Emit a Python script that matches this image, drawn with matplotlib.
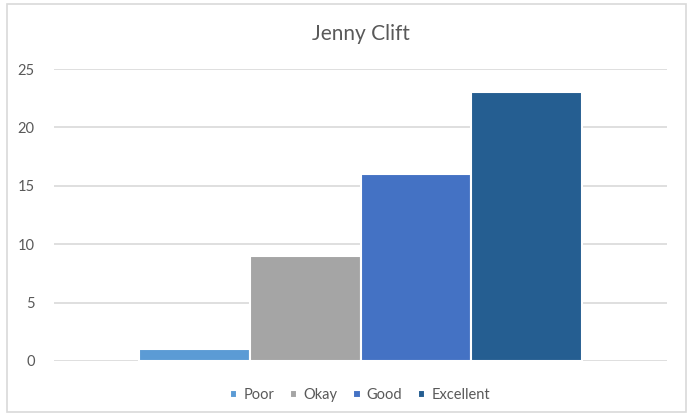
import matplotlib.pyplot as plt
from matplotlib.patches import Rectangle

# data
series = ['Poor', 'Okay', 'Good', 'Excellent']
values = [1, 9, 16, 23]
colors = ['#5B9BD5', '#A5A5A5', '#4472C4', '#255E91']
yticks = [0, 5, 10, 15, 20, 25]

plt.rcParams['font.family'] = ['Lato', 'DejaVu Sans']

W, H = 693, 416
fig = plt.figure(figsize=(W / 100, H / 100), dpi=100)
fig.patch.set_facecolor('white')

# chart border
fig.patches.append(Rectangle((7 / W, 4 / H), 679 / W, 408 / H, transform=fig.transFigure,
                             fill=False, edgecolor='#D9D9D9', linewidth=1.2))

ax = fig.add_axes([54 / W, (H - 361) / H, (667 - 54) / W, (361 - 69) / H])

bar_w = 0.7227 / len(series)
start = -0.7227 / 2 + bar_w / 2
for i, (name, val, col) in enumerate(zip(series, values, colors)):
    ax.bar(start + i * bar_w, val, width=bar_w, color=col, edgecolor='white',
           linewidth=1.5, label=name, zorder=3)

ax.set_xlim(-0.5, 0.5)
ax.set_ylim(0, 25)
ax.set_yticks(yticks)
ax.set_xticks([])
ax.yaxis.grid(True, color='#D9D9D9', linewidth=1.2, zorder=0)
ax.set_axisbelow(True)
for s in ax.spines.values():
    s.set_visible(False)
ax.tick_params(axis='y', length=0, pad=14, labelsize=10.5, labelcolor='#595959')

fig.text(360.5 / W, 1 - 34 / H, 'Jenny Clift', ha='center', va='center',
         fontsize=15, color='#595959')

leg = fig.legend(loc='center', bbox_to_anchor=(360 / W, 1 - 395 / H), ncol=4,
                 frameon=False, fontsize=10.5, handlelength=0.5, handleheight=0.5,
                 handletextpad=0.4, columnspacing=1.1, labelcolor='#595959')

fig.savefig('out.png', dpi=100, facecolor='white')
